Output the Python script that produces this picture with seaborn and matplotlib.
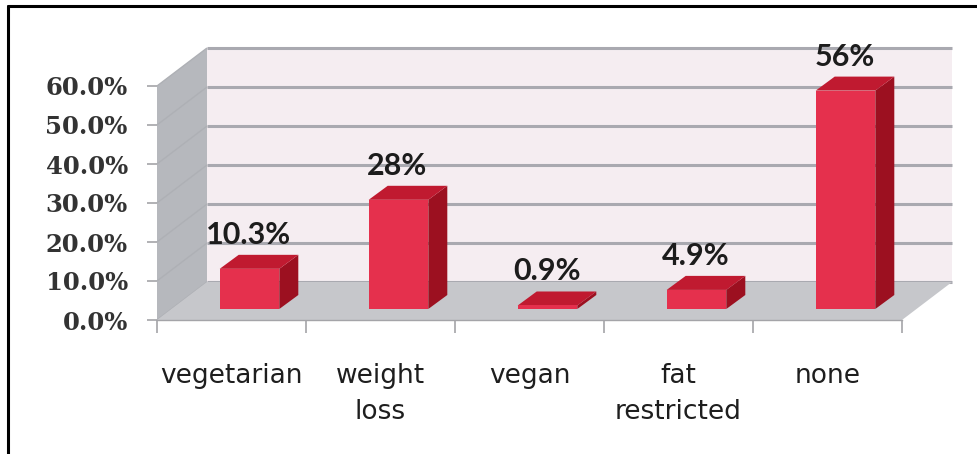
import matplotlib
matplotlib.use("Agg")
import matplotlib.pyplot as plt
import matplotlib.transforms as mtrans
from matplotlib.patches import Polygon
from matplotlib.lines import Line2D
from matplotlib.ticker import FuncFormatter
import seaborn as sns
import pandas as pd

# ---------------- data ----------------
categories = ["vegetarian", "weight\nloss", "vegan", "fat\nrestricted", "none"]
values = [10.3, 28.0, 0.9, 4.9, 56.0]
value_labels = ["10.3%", "28%", "0.9%", "4.9%", "56%"]
y_ticks = [0, 10, 20, 30, 40, 50, 60]

# ---------------- style ----------------
FRONT = "#e5304d"
TOP = "#c01a30"
SIDE = "#9c1020"
BACK_WALL = "#f5edf1"
GRID = "#a9a9b0"
LEFT_WALL = "#b6b8bd"
LEFT_GRID = "#aeb0b5"
FLOOR = "#c6c7cb"

W, H = 977, 454
sns.set_style("white")
plt.rcParams["font.family"] = ["DejaVu Sans"]

fig = plt.figure(figsize=(W / 100, H / 100), dpi=100)
ax = fig.add_axes([157 / W, 134 / H, 745 / W, 234 / H])
ax.set_facecolor("none")

df = pd.DataFrame({"diet": categories, "share": values})
sns.barplot(data=df, x="diet", y="share", color=FRONT, saturation=1,
            width=0.4, edgecolor="none", ax=ax, zorder=3)
ax.set_xlim(-0.5, 4.5)
ax.set_ylim(0, 60)

# 3D offsets in pixels (x right, y up)
DEPTH = (50, 38)      # floor / wall depth
FOFF = (18, 11)       # bar front plane offset
BDEP = (19, 14)       # bar depth

IDT = mtrans.IdentityTransform()


def disp(x, y, off=(0, 0)):
    px, py = ax.transData.transform((x, y))
    return (px + off[0], py + off[1])


def poly(pts, color, z):
    ax.add_patch(Polygon(pts, closed=True, facecolor=color, edgecolor="none",
                         transform=IDT, zorder=z, clip_on=False))


def seg(p0, p1, color, lw, z):
    ax.add_line(Line2D([p0[0], p1[0]], [p0[1], p1[1]], transform=IDT,
                       color=color, lw=lw, zorder=z, clip_on=False,
                       solid_capstyle="butt"))


x_lo, x_hi = ax.get_xlim()
y_lo, y_hi = ax.get_ylim()

# back wall
poly([disp(x_lo, y_lo, DEPTH), disp(x_hi, y_lo, DEPTH),
      disp(x_hi, y_hi, DEPTH), disp(x_lo, y_hi, DEPTH)], BACK_WALL, 0.5)
for t in y_ticks:
    seg(disp(x_lo, t, DEPTH), disp(x_hi, t, DEPTH), GRID, 2.2, 0.6)
# left wall
poly([disp(x_lo, y_lo), disp(x_lo, y_hi), disp(x_lo, y_hi, DEPTH),
      disp(x_lo, y_lo, DEPTH)], LEFT_WALL, 0.7)
for t in y_ticks:
    seg(disp(x_lo, t), disp(x_lo, t, DEPTH), LEFT_GRID, 1.0, 0.75)
# floor
poly([disp(x_lo, 0), disp(x_hi, 0), disp(x_hi, 0, DEPTH),
      disp(x_lo, 0, DEPTH)], FLOOR, 0.8)

# bars: move seaborn's rectangles into the bar plane and add top/side faces
shift = mtrans.ScaledTranslation(FOFF[0] / 100, FOFF[1] / 100, fig.dpi_scale_trans)
back = (FOFF[0] + BDEP[0], FOFF[1] + BDEP[1])
for p, lbl in zip(ax.patches[:len(values)], value_labels):
    x0, w, h = p.get_x(), p.get_width(), p.get_height()
    p.set_transform(ax.transData + shift)
    p.set_clip_on(False)
    p.set_zorder(3.2)
    poly([disp(x0 + w, 0, FOFF), disp(x0 + w, h, FOFF),
          disp(x0 + w, h, back), disp(x0 + w, 0, back)], SIDE, 3.0)
    poly([disp(x0, h, FOFF), disp(x0 + w, h, FOFF),
          disp(x0 + w, h, back), disp(x0, h, back)], TOP, 3.1)
    ax.annotate(lbl, xy=(x0 + w / 2, h),
                xytext=((FOFF[0] - 1) * 0.72, (FOFF[1] + 25) * 0.72),
                textcoords="offset points", ha="center", va="baseline",
                fontsize=22, fontweight="bold", family=["Lato", "DejaVu Sans"],
                color="#1c1c1c", zorder=6, annotation_clip=False)

# axes / ticks
for s in ["left", "right", "top"]:
    ax.spines[s].set_visible(False)
ax.spines["bottom"].set_color("#a4a4a8")
ax.spines["bottom"].set_linewidth(1.0)

ax.set_yticks(y_ticks)
ax.yaxis.set_major_formatter(FuncFormatter(lambda v, _: f"{v:.1f}%"))
ax.tick_params(axis="y", left=True, length=7, width=1.2, color="#a4a4a8",
               pad=14, labelsize=17.5, labelcolor="#333333")
for t in ax.get_yticklabels():
    t.set_family(["DejaVu Serif"])
    t.set_fontweight("bold")

ax.set_xticks(range(len(categories)))
ax.set_xticklabels(categories)
ax.set_xticks([i - 0.5 for i in range(len(categories) + 1)], minor=True)
ax.tick_params(axis="x", which="major", bottom=False, length=0, pad=31,
               labelsize=19, labelcolor="#1e1e1e")
ax.tick_params(axis="x", which="minor", bottom=True, length=9, width=1.2,
               color="#a4a4a8")
for t in ax.get_xticklabels():
    t.set_family(["DejaVu Sans"])
    t.set_linespacing(1.5)
ax.set_xlabel("")
ax.set_ylabel("")

# outer frame (left and top border)
fig.add_artist(Line2D([8 / W, 8 / W], [0, 1 - 6 / H], transform=fig.transFigure,
                      color="black", lw=2.2))
fig.add_artist(Line2D([8 / W, 1], [1 - 6 / H, 1 - 6 / H], transform=fig.transFigure,
                      color="black", lw=2.2))

fig.savefig("out.png", dpi=100)
